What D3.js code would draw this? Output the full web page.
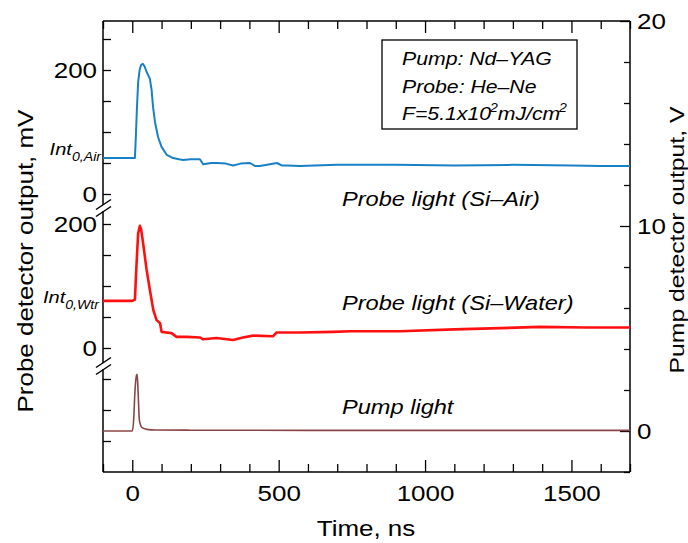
<!DOCTYPE html>
<html>
<head>
<meta charset="utf-8">
<script src="https://cdn.jsdelivr.net/npm/d3@7"></script>
<style>
  body { margin: 0; background: #fff; }
  text { font-family: "Liberation Sans", Arial, sans-serif; }
</style>
</head>
<body>
<div id="chart"></div>
<script>
// probe light, Si-Air (mV)
const timeAir = [-100, 0, 9, 12, 16, 20, 25, 30, 36, 42, 48, 55, 60, 66, 71, 78, 88, 100, 118, 139, 160, 173, 200, 231, 242, 270, 289, 320, 344, 370, 402, 420, 436, 470, 494, 510, 528, 572, 700, 900, 1100, 1300, 1500, 1600, 1700]
const airMv = [58, 58, 58, 90, 140, 180, 200, 208, 210, 206, 198, 191, 186, 168, 140, 115, 92, 76, 63, 58, 56, 55, 56, 56, 48, 50, 50, 49, 46, 49, 50, 45, 45, 48, 50, 46, 46, 45, 47, 47, 46, 47, 46, 45, 45]

// probe light, Si-Water (mV)
const timeWtr = [-100, 0, 9, 14, 20, 26, 30, 37, 49, 60, 72, 83, 95, 100, 117, 134, 151, 186, 231, 242, 288, 344, 378, 413, 481, 493, 573, 686, 744, 914, 1100, 1256, 1392, 1550, 1700]
const wtrMv = [76, 76, 78, 130, 185, 197, 192, 169, 126, 94, 61, 45, 40, 26, 25, 24, 18, 18, 17, 14, 16, 13, 17, 20, 19, 25, 25, 26, 27, 27, 30, 32, 34, 33, 33]

// pump light (V)
const timePump = [-100, 0, 5, 9, 13, 16, 18, 21, 24, 28, 32, 40, 49, 80, 200, 600, 1000, 1700]
const pumpV = [0, 0, 0.6, 1.9, 2.6, 2.76, 2.5, 1.5, 0.57, 0.3, 0.18, 0.12, 0.08, 0.05, 0.04, 0.03, 0.03, 0.03]

const xMajor = [0, 500, 1000, 1500]
const rightMajor = [0, 10, 20]

const SX = 1.18 // the original font is drawn wider

const svg = d3.select('#chart').append('svg')
  .attr('width', 688).attr('height', 543)

const x = d3.scaleLinear().domain([-100, 1700]).range([103, 630])
const yRight = d3.scaleLinear().domain([-2, 20]).range([472, 21])
const yAir = d3.scaleLinear().domain([0, 200]).range([194, 70])
const yWtr = d3.scaleLinear().domain([0, 200]).range([348, 224])
const yLow = d3.scaleLinear().domain([0, 200]).range([472, 348])

function stretch(sel) {
  sel.each(function() {
    const t = d3.select(this)
    const tx = +t.attr('x') || 0, ty = +t.attr('y') || 0
    t.attr('x', null).attr('y', null)
      .attr('transform', `translate(${tx},${ty}) scale(${SX},1)`)
  })
}

function styleAxis(g) {
  g.select('.domain').remove()
  g.selectAll('line').attr('stroke', '#000').attr('stroke-width', 1.3)
  g.selectAll('text').attr('font-size', 22).attr('fill', '#000')
}

// frame lines (left one broken)
const frame = svg.append('g').attr('stroke', '#000').attr('stroke-width', 1.5).attr('fill', 'none')
frame.append('line').attr('x1', 103).attr('x2', 630).attr('y1', 21).attr('y2', 21)
frame.append('line').attr('x1', 103).attr('x2', 630).attr('y1', 472).attr('y2', 472)
frame.append('line').attr('x1', 630).attr('x2', 630).attr('y1', 21).attr('y2', 472)
frame.append('line').attr('x1', 103).attr('x2', 103).attr('y1', 21).attr('y2', 205)
frame.append('line').attr('x1', 103).attr('x2', 103).attr('y1', 211).attr('y2', 363)
frame.append('line').attr('x1', 103).attr('x2', 103).attr('y1', 369).attr('y2', 472)
// break marks
;[208, 366].forEach(c => {
  [-3.5, 3.5].forEach(o => {
    frame.append('line')
      .attr('x1', 96).attr('y1', c + o + 5)
      .attr('x2', 111).attr('y2', c + o - 5)
  })
})

// bottom axis
const minorX = d3.range(-100, 1701, 100).filter(v => !xMajor.includes(v))
svg.append('g').attr('transform', 'translate(0,472)')
  .call(d3.axisBottom(x).tickValues(minorX).tickSize(-8).tickFormat(''))
  .call(styleAxis)
svg.append('g').attr('transform', 'translate(0,472)')
  .call(d3.axisBottom(x).tickValues(xMajor).tickSize(-12).tickPadding(13).tickFormat(d3.format('d')))
  .call(styleAxis)
  .call(g => stretch(g.selectAll('text')))
// top ticks
svg.append('g').attr('transform', 'translate(0,21)')
  .call(d3.axisTop(x).tickValues(minorX).tickSize(-8).tickFormat(''))
  .call(styleAxis)
svg.append('g').attr('transform', 'translate(0,21)')
  .call(d3.axisTop(x).tickValues(xMajor).tickSize(-12).tickFormat(''))
  .call(styleAxis)

// right axis
const minorR = d3.range(-2, 21, 2).filter(v => !rightMajor.includes(v))
svg.append('g').attr('transform', 'translate(630,0)')
  .call(d3.axisRight(yRight).tickValues(minorR).tickSize(-6).tickFormat(''))
  .call(styleAxis)
svg.append('g').attr('transform', 'translate(630,0)')
  .call(d3.axisRight(yRight).tickValues(rightMajor).tickSize(-10).tickPadding(7).tickFormat(d3.format('d')))
  .call(styleAxis)
  .call(g => stretch(g.selectAll('text')))

// left axis segments
svg.append('g').attr('transform', 'translate(103,0)')
  .call(d3.axisLeft(yAir).tickValues([0, 50, 100, 150, 200, 250]).tickSize(-8).tickPadding(6)
    .tickFormat(d => (d === 0 || d === 200) ? d : ''))
  .call(styleAxis)
  .call(g => stretch(g.selectAll('text')))
svg.append('g').attr('transform', 'translate(103,0)')
  .call(d3.axisLeft(yWtr).tickValues([0, 50, 100, 150, 200]).tickSize(-8).tickPadding(6)
    .tickFormat(d => (d === 0 || d === 200) ? d : ''))
  .call(styleAxis)
  .call(g => stretch(g.selectAll('text')))
svg.append('g').attr('transform', 'translate(103,0)')
  .call(d3.axisLeft(yLow).tickValues([50, 100, 150]).tickSize(-8).tickFormat(''))
  .call(styleAxis)

// traces
const line = d3.line()
svg.append('path')
  .attr('d', line.x(d => x(d[0])).y(d => yAir(d[1]))(d3.zip(timeAir, airMv)))
  .attr('fill', 'none').attr('stroke', '#1a80c4').attr('stroke-width', 2)
  .attr('stroke-linejoin', 'round')
svg.append('path')
  .attr('d', line.x(d => x(d[0])).y(d => yWtr(d[1]))(d3.zip(timeWtr, wtrMv)))
  .attr('fill', 'none').attr('stroke', '#ff1010').attr('stroke-width', 2.6)
  .attr('stroke-linejoin', 'round')
svg.append('path')
  .attr('d', d3.line().curve(d3.curveMonotoneX).x(d => x(d[0])).y(d => yRight(d[1]))(d3.zip(timePump, pumpV)))
  .attr('fill', 'none').attr('stroke', '#8a4646').attr('stroke-width', 1.6)

// texts
function label(tx, ty, str, size, opts = {}) {
  const t = svg.append('text')
    .attr('transform', `translate(${tx},${ty})${opts.rotate ? ' rotate(' + opts.rotate + ')' : ''} scale(${SX},1)`)
    .attr('font-size', size)
    .attr('font-style', opts.italic ? 'italic' : 'normal')
    .attr('text-anchor', opts.anchor || 'start')
    .attr('fill', '#000')
  if (str) t.text(str)
  return t
}

label(342, 206, 'Probe light (Si\u2013Air)', 20, { italic: true })
label(342, 310, 'Probe light (Si\u2013Water)', 20, { italic: true })
label(342, 414, 'Pump light', 20, { italic: true })

// Int_0 labels
const intAir = label(101, 155, null, 17, { italic: true, anchor: 'end' })
intAir.append('tspan').text('Int')
intAir.append('tspan').attr('font-size', 12).attr('dy', 6).text('0,Air')
const intWtr = label(99, 303, null, 17, { italic: true, anchor: 'end' })
intWtr.append('tspan').text('Int')
intWtr.append('tspan').attr('font-size', 12).attr('dy', 6).text('0,Wtr')

// info box
svg.append('rect').attr('x', 382).attr('y', 40).attr('width', 195).attr('height', 89)
  .attr('fill', 'none').attr('stroke', '#000').attr('stroke-width', 1.3)
label(402, 65, 'Pump: Nd\u2013YAG', 18, { italic: true })
label(402, 93, 'Probe: He\u2013Ne', 18, { italic: true })
const fl = label(402, 120, null, 18, { italic: true })
fl.append('tspan').text('F=5.1x10')
fl.append('tspan').attr('font-size', 12).attr('dy', -8).attr('dx', -1).text('2')
fl.append('tspan').attr('dy', 8).text('mJ/cm')
fl.append('tspan').attr('font-size', 12).attr('dy', -8).attr('dx', -1).text('2')

// axis titles
label(366, 536, 'Time, ns', 22, { anchor: 'middle' })
label(33, 261, 'Probe detector output, mV', 22, { anchor: 'middle', rotate: -90 })
label(684, 240, 'Pump detector output, V', 21, { anchor: 'middle', rotate: -90 })
</script>
</body>
</html>
